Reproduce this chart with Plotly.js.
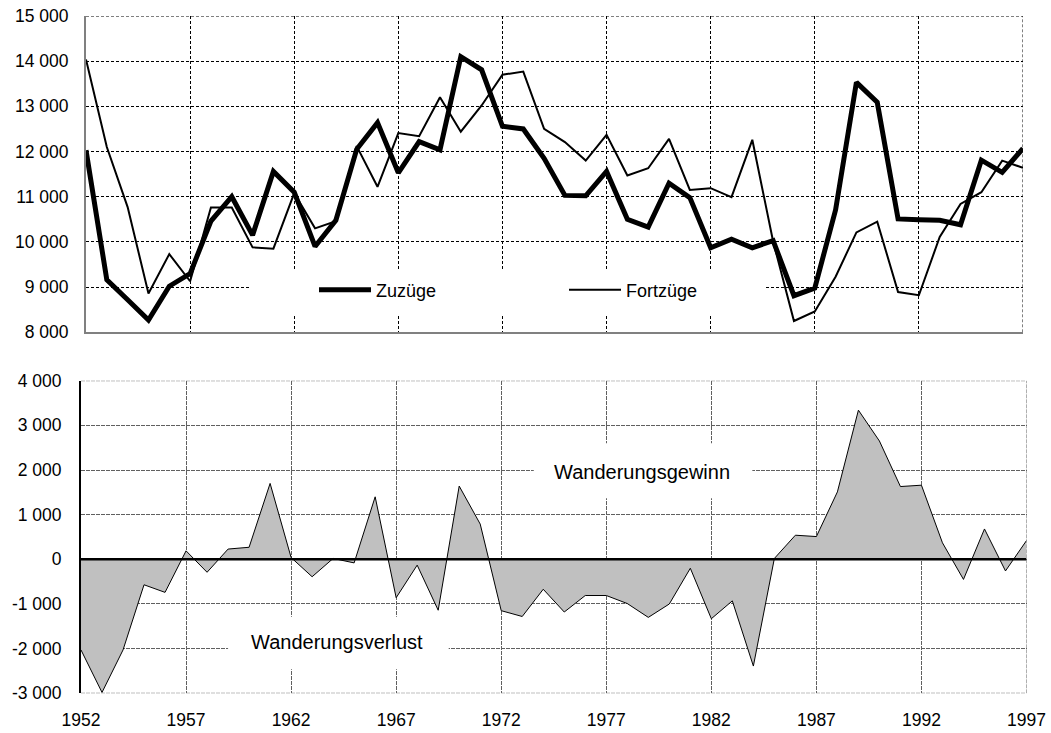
<!DOCTYPE html>
<html>
<head>
<meta charset="utf-8">
<script src="https://cdn.plot.ly/plotly-3.0.1.min.js"></script>
<style>html,body{margin:0;padding:0;background:#fff;}#chart{width:1051px;height:733px;}</style>
</head>
<body>
<div id="chart"></div>
<script>
const years = [1952,1953,1954,1955,1956,1957,1958,1959,1960,1961,1962,1963,1964,1965,1966,1967,1968,1969,1970,1971,1972,1973,1974,1975,1976,1977,1978,1979,1980,1981,1982,1983,1984,1985,1986,1987,1988,1989,1990,1991,1992,1993,1994,1995,1996,1997];
const zuzuege = [12030,9160,8720,8270,9020,9300,10460,11000,10150,11560,11100,9900,10480,12050,12640,11530,12220,12040,14100,13810,12560,12500,11850,11030,11020,11560,10500,10330,11300,10980,9870,10060,9870,10030,8810,8980,10710,13530,13090,10510,10490,10480,10380,11810,11540,12070];
const fortzuege = [14040,12100,10770,8860,9730,9130,10760,10760,9880,9850,11080,10300,10460,12120,11220,12410,12340,13200,12440,13020,13700,13770,12500,12210,11800,12370,11470,11630,12280,11150,11190,10990,12260,10010,8250,8460,9230,10210,10450,8890,8820,10110,10840,11100,11800,11640];
const saldo = [-2030,-2980,-2030,-570,-740,190,-290,230,270,1700,40,-390,20,-80,1400,-860,-130,-1140,1640,790,-1150,-1280,-670,-1180,-810,-810,-990,-1300,-1000,-200,-1330,-930,-2390,20,540,510,1510,3340,2650,1630,1660,370,-450,680,-260,420];

const xTickVals = [1952,1957,1962,1967,1972,1977,1982,1987,1992,1997];
const xTickText = ["1952","1957","1962","1967","1972","1977","1982","1987","1992","1997"];
const yTopVals = [8000,9000,10000,11000,12000,13000,14000,15000];
const yTopText = ["8 000","9 000","10 000","11 000","12 000","13 000","14 000","15 000"];
const yBotVals = [-3000,-2000,-1000,0,1000,2000,3000,4000];
const yBotText = ["-3 000","-2 000","-1 000","0","1 000","2 000","3 000","4 000"];
const seriesNames = ["Zuzüge","Fortzüge"];
const labelGain = "Wanderungsgewinn";
const labelLoss = "Wanderungsverlust";

const FONT = "Arial, 'Liberation Sans', sans-serif";
const W = 1051, H = 733;
const X0 = 1952, X1 = 1997;
const topGrid = {color: '#000', width: 1, dash: '3px,2px'};
const botGrid = {color: '#606060', width: 1, dash: '4px,1px'};

const traces = [
  {x: years, y: zuzuege, name: seriesNames[0], type: 'scatter', mode: 'lines',
   xaxis: 'x', yaxis: 'y', line: {color: '#000', width: 5}, legend: 'legend', hoverinfo: 'skip'},
  {x: years, y: fortzuege, name: seriesNames[1], type: 'scatter', mode: 'lines',
   xaxis: 'x', yaxis: 'y', line: {color: '#000', width: 2}, legend: 'legend2', hoverinfo: 'skip'},
  {x: years, y: saldo, name: 'Saldo', type: 'scatter', mode: 'lines', fill: 'tozeroy',
   fillcolor: '#c0c0c0', xaxis: 'x2', yaxis: 'y2', line: {color: '#000', width: 1},
   showlegend: false, hoverinfo: 'skip'}
];

const layout = {
  width: W, height: H,
  margin: {l: 0, r: 0, t: 0, b: 0},
  paper_bgcolor: '#fff', plot_bgcolor: '#fff',
  font: {family: FONT, size: 17.5, color: '#000'},
  showlegend: true,
  xaxis: {
    domain: [86/W, 1023/W], range: [X0, X1], anchor: 'y',
    tickmode: 'array', tickvals: xTickVals, showticklabels: false, ticks: '',
    showgrid: true, gridcolor: topGrid.color, gridwidth: 1, griddash: topGrid.dash,
    showline: true, linecolor: '#808080', linewidth: 2, zeroline: false, fixedrange: true
  },
  yaxis: {
    domain: [1 - 332.3/H, 1 - 16/H], range: [8000, 15000], anchor: 'x',
    tickmode: 'array', tickvals: yTopVals, ticktext: yTopText, ticks: '',
    ticklabelstandoff: 12,
    showgrid: true, gridcolor: topGrid.color, gridwidth: 1, griddash: topGrid.dash,
    showline: true, linecolor: '#808080', linewidth: 2, zeroline: false, fixedrange: true
  },
  xaxis2: {
    domain: [81/W, 1026.5/W], range: [X0, X1], anchor: 'y2',
    tickmode: 'array', tickvals: xTickVals, ticktext: xTickText, ticks: '',
    ticklabelstandoff: 14,
    showgrid: true, gridcolor: botGrid.color, gridwidth: 1, griddash: botGrid.dash,
    showline: false, zeroline: false, fixedrange: true
  },
  yaxis2: {
    domain: [1 - 693.3/H, 1 - 380.7/H], range: [-3000, 4000], anchor: 'x2',
    tickmode: 'array', tickvals: yBotVals, ticktext: yBotText, ticks: '',
    ticklabelstandoff: 14, layer: 'above traces',
    showgrid: true, gridcolor: botGrid.color, gridwidth: 1, griddash: botGrid.dash,
    showline: true, linecolor: '#000', linewidth: 2, zeroline: false, fixedrange: true
  },
  legend: {
    x: 314/W, y: 1 - 290/H, xanchor: 'left', yanchor: 'middle',
    orientation: 'h', bgcolor: 'rgba(0,0,0,0)', borderwidth: 0, itemwidth: 52,
    font: {family: FONT, size: 18, color: '#000'}
  },
  legend2: {
    x: 564/W, y: 1 - 290/H, xanchor: 'left', yanchor: 'middle',
    orientation: 'h', bgcolor: 'rgba(0,0,0,0)', borderwidth: 0, itemwidth: 52,
    font: {family: FONT, size: 18, color: '#000'}
  },
  shapes: [
    {type: 'rect', xref: 'x', yref: 'y', x0: 1959.9, x1: 1984.6, y0: 8380, y1: 9380,
     fillcolor: '#fff', line: {width: 0}, layer: 'between'},
    {type: 'rect', xref: 'x2', yref: 'y2', x0: 1973.55, x1: 1983.95, y0: 1365, y1: 2600,
     fillcolor: '#fff', line: {width: 0}, layer: 'between'},
    {type: 'rect', xref: 'x2', yref: 'y2', x0: 1959.0, x1: 1969.5, y0: -2463, y1: -1284,
     fillcolor: '#fff', line: {width: 0}, layer: 'between'},
    // plot-area edges drawn in the grid style
    {type: 'line', xref: 'x', yref: 'y', x0: X0, x1: X1, y0: 15000, y1: 15000, line: topGrid, layer: 'below'},
    {type: 'line', xref: 'x', yref: 'y', x0: X1, x1: X1, y0: 8000, y1: 15000, line: topGrid, layer: 'below'},
    {type: 'line', xref: 'x2', yref: 'y2', x0: X0, x1: X1, y0: 4000, y1: 4000, line: botGrid, layer: 'below'},
    {type: 'line', xref: 'x2', yref: 'y2', x0: X1, x1: X1, y0: -3000, y1: 4000, line: botGrid, layer: 'below'},
    {type: 'line', xref: 'x2', yref: 'y2', x0: X0, x1: X1, y0: -3000, y1: -3000, line: botGrid, layer: 'below'},
    {type: 'line', xref: 'x2', yref: 'y2', x0: X0, x1: X1, y0: 0, y1: 0,
     line: {color: '#000', width: 2.5}, layer: 'above'}
  ],
  annotations: [
    {xref: 'x2', yref: 'y2', x: 1978.7, y: 1950, text: labelGain, showarrow: false,
     font: {family: FONT, size: 20, color: '#000'}},
    {xref: 'x2', yref: 'y2', x: 1964.2, y: -1850, text: labelLoss, showarrow: false,
     font: {family: FONT, size: 20, color: '#000'}}
  ]
};

Plotly.newPlot('chart', traces, layout, {displayModeBar: false, staticPlot: true});
</script>
</body>
</html>
